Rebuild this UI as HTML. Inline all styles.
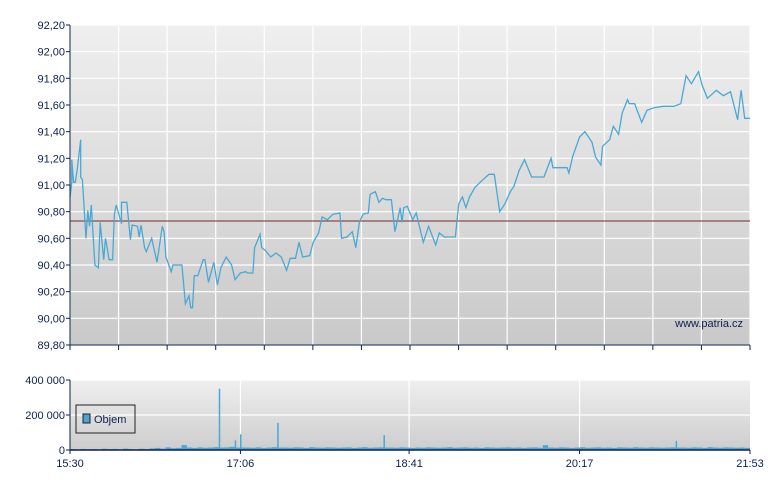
<!DOCTYPE html>
<html><head><meta charset="utf-8"><style>
body{margin:0;background:#fff;}
svg text{font-family:"Liberation Sans",sans-serif;font-size:11px;fill:#0c2150;}
</style></head><body>
<svg id="c" width="780" height="490" xmlns="http://www.w3.org/2000/svg">
<defs>
<linearGradient id="g1" x1="0" y1="0" x2="0" y2="1"><stop offset="0" stop-color="#efefef"/><stop offset="1" stop-color="#c9c9c9"/></linearGradient>
<linearGradient id="g2" x1="0" y1="0" x2="0" y2="1"><stop offset="0" stop-color="#efefef"/><stop offset="1" stop-color="#cdcdcd"/></linearGradient>
</defs>
<rect x="70" y="25" width="680" height="320" fill="url(#g1)"/>
<rect x="70" y="380" width="680" height="70" fill="url(#g2)"/>
<g id="grid"></g>
<g id="marks"></g>
<g id="axes"></g>
<text x="743" y="327" text-anchor="end">www.patria.cz</text>
<g>
<rect x="76" y="405" width="59" height="28" fill="none" stroke="#222" stroke-width="1"/>
<rect x="83" y="414" width="7" height="9" fill="#4aa3d0" stroke="#222" stroke-width="1"/>
<text x="94" y="423">Objem</text>
</g>
</svg>
<script>
const priceTicks=[92.2,92.0,91.8,91.6,91.4,91.2,91.0,90.8,90.6,90.4,90.2,90.0,89.8];
const priceTickLabels=["92,20","92,00","91,80","91,60","91,40","91,20","91,00","90,80","90,60","90,40","90,20","90,00","89,80"];
const volTicks=[0,200000,400000];
const volTickLabels=["0","200 000","400 000"];
const timeTicks=[0,96,191,287,383];
const timeTickLabels=["15:30","17:06","18:41","20:17","21:53"];
const refPrice=90.73;
const times=[0,1,1,2,3,4,6,6,7,9,10,11,12,14,16,17,19,20,22,24,25,26,29,29,32,34,35,38,39,40,42,43,46,49,52,53,54,57,58,63,65,67,68,69,70,72,75,76,78,81,83,85,88,91,93,96,99,100,103,104,107,108,110,113,116,119,122,124,127,129,131,135,137,140,142,145,148,152,153,156,159,161,163,165,168,169,172,174,176,178,181,183,186,187,188,190,193,195,199,202,206,208,211,217,219,221,223,225,228,231,236,239,242,245,248,250,253,256,260,267,271,272,280,281,283,287,290,294,296,299,300,304,306,309,311,314,315,318,322,325,329,334,340,344,347,350,354,356,359,364,368,372,376,378,380,383];
const prices=[90.91,91.02,91.19,91.02,91.02,91.11,91.34,91.06,91.04,90.60,90.81,90.69,90.85,90.40,90.38,90.72,90.44,90.60,90.44,90.44,90.78,90.85,90.71,90.87,90.87,90.59,90.70,90.69,90.61,90.70,90.53,90.50,90.60,90.42,90.69,90.65,90.46,90.35,90.40,90.40,90.11,90.17,90.08,90.08,90.32,90.32,90.44,90.44,90.27,90.42,90.25,90.38,90.46,90.40,90.29,90.34,90.35,90.34,90.34,90.53,90.63,90.53,90.51,90.46,90.49,90.46,90.36,90.45,90.45,90.57,90.46,90.47,90.57,90.64,90.76,90.74,90.78,90.79,90.60,90.61,90.65,90.53,90.72,90.78,90.79,90.93,90.95,90.87,90.90,90.89,90.89,90.65,90.83,90.72,90.83,90.84,90.74,90.79,90.57,90.69,90.55,90.64,90.61,90.61,90.86,90.91,90.83,90.91,90.98,91.02,91.08,91.08,90.80,90.86,90.95,90.99,91.11,91.19,91.06,91.06,91.20,91.13,91.13,91.09,91.21,91.36,91.40,91.32,91.21,91.15,91.29,91.34,91.44,91.38,91.54,91.64,91.61,91.61,91.47,91.56,91.58,91.59,91.59,91.61,91.82,91.76,91.85,91.75,91.65,91.71,91.67,91.70,91.49,91.71,91.50,91.50];
const volumes=[5000,0,6000,4000,5000,0,7000,5000,6000,0,8000,5000,0,7000,6000,9000,12000,8000,15000,10000,12000,28000,14000,12000,15000,13000,14000,16000,350000,15000,18000,55000,90000,14000,13000,15000,12000,14000,16000,155000,14000,13000,15000,14000,12000,16000,14000,13000,15000,14000,13000,14000,15000,12000,14000,16000,13000,14000,15000,85000,14000,13000,15000,14000,12000,14000,13000,15000,14000,13000,14000,16000,13000,14000,15000,13000,14000,12000,15000,14000,13000,14000,15000,13000,14000,12000,14000,15000,13000,28000,14000,13000,15000,14000,12000,14000,16000,13000,14000,15000,13000,14000,12000,15000,14000,13000,16000,14000,13000,15000,14000,13000,14000,15000,52000,14000,13000,15000,14000,12000,16000,14000,13000,15000,14000,13000,14000,12000];
const X0=70,X1=750,TMAX=383;
const xs=t=>X0+t/TMAX*(X1-X0);
const yp=v=>25+(92.2-v)/2.4*320;
const yv=v=>450-v/400000*70;
const NS="http://www.w3.org/2000/svg";
function mk(tag,attrs,parent){const e=document.createElementNS(NS,tag);for(const k in attrs)e.setAttribute(k,attrs[k]);document.getElementById(parent).appendChild(e);return e;}
for(let i=0;i<=14;i++){const x=X0+i*(X1-X0)/14;
 const g=mk('line',{x1:x,x2:x,y1:25,y2:345,stroke:'#fff','stroke-width':1.2},'grid');
 
 
 const t=mk('line',{x1:x,x2:x,y1:345,y2:350,stroke:'#0c2150'},'axes');
 
 }
priceTicks.forEach((v,i)=>{const y=yp(v);
 const g=mk('line',{x1:X0,x2:X1,y1:y,y2:y,stroke:'#fff','stroke-width':1.2},'grid');
 
 
 mk('line',{x1:X0-4,x2:X0,y1:y,y2:y,stroke:'#0c2150'},'axes');
 const t=mk('text',{x:X0-5,y:y+4,'text-anchor':'end'},'axes');t.textContent=priceTickLabels[i];
 
 });
timeTicks.forEach((tt,i)=>{const x=xs(tt);
 if(i>0&&i<timeTicks.length-1){const g=mk('line',{x1:x,x2:x,y1:380,y2:450,stroke:'#fff','stroke-width':1.2},'grid');
 
 }
 mk('line',{x1:x,x2:x,y1:450,y2:454,stroke:'#0c2150'},'axes');
 const t=mk('text',{x:x,y:467,'text-anchor':'middle'},'axes');t.textContent=timeTickLabels[i];
 
 });
volTicks.forEach((v,i)=>{const y=yv(v);
 if(v>0){const g=mk('line',{x1:X0,x2:X1,y1:y,y2:y,stroke:'#fff','stroke-width':1.2},'grid');
 
 }
 mk('line',{x1:X0-4,x2:X0,y1:y,y2:y,stroke:'#0c2150'},'axes');
 const t=mk('text',{x:X0-5,y:y+4,'text-anchor':'end'},'axes');t.textContent=volTickLabels[i];
 
 });
const r=mk('line',{x1:X0,x2:X1,y1:yp(refPrice),y2:yp(refPrice),stroke:'#6a2a2a','stroke-width':1},'marks');


const pts=times.map((t,i)=>xs(t).toFixed(1)+','+yp(prices[i]).toFixed(1)).join(' ');
const pl=mk('polyline',{points:pts,fill:'none',stroke:'#4aa8d4','stroke-width':1.3},'marks');


const bw=(X1-X0)/volumes.length;
volumes.forEach((v,i)=>{if(!v)return;const x=xs(i*TMAX/volumes.length);const big=v>40000;
 const b=mk('rect',{x:x,y:yv(v),width:big?1.5:bw,height:450-yv(v),fill:'#4aa8d4'},'marks');
 
 
 if(big){const b2=mk('rect',{x:x,y:yv(14000),width:bw,height:450-yv(14000),fill:'#4aa8d4'},'marks');
 
 }});
mk('line',{x1:X0,x2:X0,y1:25,y2:345,stroke:'#0c2150'},'axes');
mk('line',{x1:X0,x2:X1,y1:345,y2:345,stroke:'#0c2150'},'axes');
mk('line',{x1:X0,x2:X0,y1:380,y2:450,stroke:'#0c2150'},'axes');
mk('line',{x1:X0,x2:X1,y1:450,y2:450,stroke:'#0c2150','stroke-width':1.5},'axes');
</script>
</body></html>
